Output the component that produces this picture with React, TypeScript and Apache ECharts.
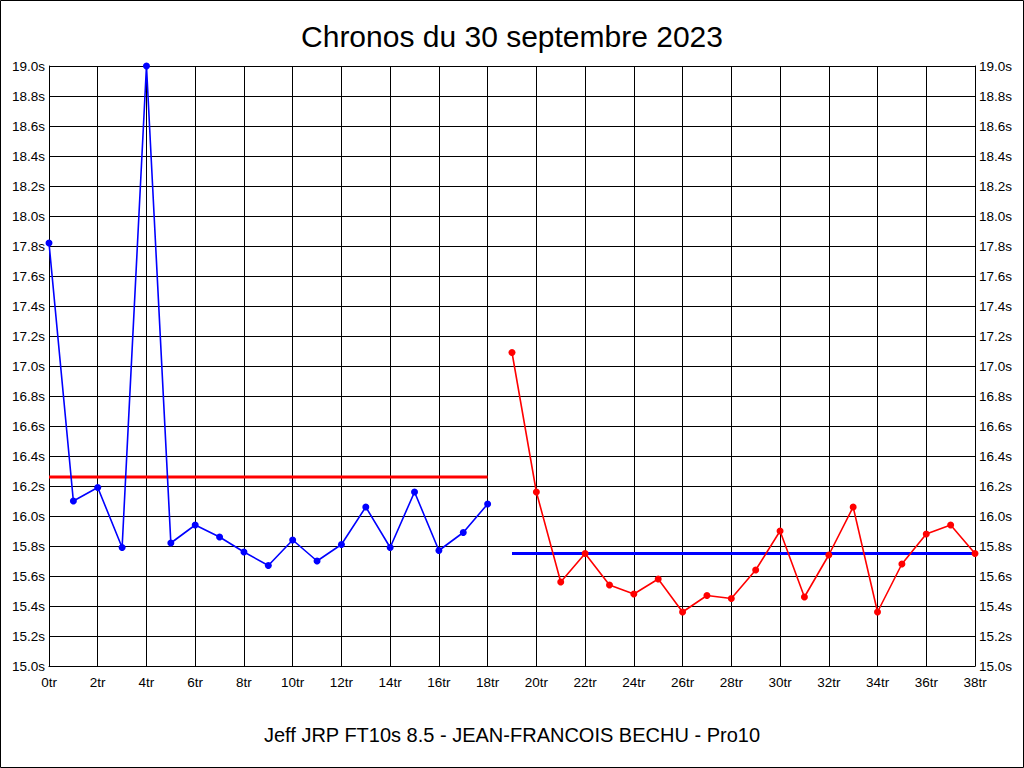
import React, { useEffect, useRef } from "react";
import * as echarts from "echarts";

const TITLE = "Chronos du 30 septembre 2023";
const FOOTER = "Jeff JRP FT10s 8.5 - JEAN-FRANCOIS BECHU - Pro10";

// Lap times (seconds)
const blueStartLap = 0;
const blueTimes = [
  17.82, 16.1, 16.19, 15.79, 19.0, 15.82, 15.94, 15.86, 15.76, 15.67,
  15.84, 15.7, 15.81, 16.06, 15.79, 16.16, 15.77, 15.89, 16.08,
];
const redStartLap = 19;
const redTimes = [
  17.09, 16.16, 15.56, 15.75, 15.54, 15.48, 15.58, 15.36, 15.47, 15.45,
  15.64, 15.9, 15.46, 15.74, 16.06, 15.36, 15.68, 15.88, 15.94, 15.75,
];
// Reference lines
const redRefValue = 16.26;
const redRefLaps = [0, 18];
const blueRefValue = 15.75;
const blueRefLaps = [19, 38];

const xMin = 0;
const xMax = 38;
const xInterval = 2;
const yMin = 15.0;
const yMax = 19.0;
const yInterval = 0.2;

const FONT = "Arial, 'Liberation Sans', sans-serif";

export default function App() {
  const ref = useRef<HTMLDivElement>(null);
  useEffect(() => {
    document.body.style.margin = "0";
    if (!ref.current) return;
    const chart = echarts.init(ref.current, undefined, { renderer: "svg" });
    const blueData = blueTimes.map((v, i) => [blueStartLap + i, v]);
    const redData = redTimes.map((v, i) => [redStartLap + i, v]);
    const yLabel = {
      color: "#000",
      fontSize: 13.5,
      fontFamily: FONT,
      margin: 4,
      formatter: (v: number) => v.toFixed(1) + "s",
    };
    chart.setOption({
      animation: false,
      backgroundColor: "#fff",
      textStyle: { fontFamily: FONT },
      title: [
        {
          text: TITLE,
          left: "center",
          top: 16,
          textStyle: { fontSize: 30, fontWeight: "normal", color: "#000", fontFamily: FONT },
        },
        {
          text: FOOTER,
          left: "center",
          top: 720,
          textStyle: { fontSize: 20, fontWeight: "normal", color: "#000", fontFamily: FONT },
        },
      ],
      graphic: [
        {
          type: "rect",
          shape: { x: 0.5, y: 0.5, width: 1023, height: 767 },
          style: { fill: "none", stroke: "#000", lineWidth: 1 },
          silent: true,
          z: 100,
        },
      ],
      grid: { left: 49, right: 49, top: 66, bottom: 102, containLabel: false },
      xAxis: {
        type: "value",
        min: xMin,
        max: xMax,
        interval: xInterval,
        axisLine: { show: true, lineStyle: { color: "#000", width: 1 } },
        axisTick: { show: false },
        splitLine: { show: true, lineStyle: { color: "#000", width: 1 } },
        axisLabel: {
          color: "#000",
          fontSize: 13.5,
          fontFamily: FONT,
          margin: 9,
          formatter: (v: number) => v + "tr",
        },
      },
      yAxis: [
        {
          type: "value",
          position: "left",
          min: yMin,
          max: yMax,
          interval: yInterval,
          axisLine: { show: true, lineStyle: { color: "#000", width: 1 } },
          axisTick: { show: false },
          splitLine: { show: true, lineStyle: { color: "#000", width: 1 } },
          axisLabel: yLabel,
        },
        {
          type: "value",
          position: "right",
          min: yMin,
          max: yMax,
          interval: yInterval,
          axisLine: { show: true, lineStyle: { color: "#000", width: 1 } },
          axisTick: { show: false },
          splitLine: { show: false },
          axisLabel: yLabel,
        },
      ],
      series: [
        {
          type: "line",
          data: redRefLaps.map((x) => [x, redRefValue]),
          symbol: "none",
          lineStyle: { color: "#ff0000", width: 3 },
          z: 3,
        },
        {
          type: "line",
          data: blueRefLaps.map((x) => [x, blueRefValue]),
          symbol: "none",
          lineStyle: { color: "#0000ff", width: 3 },
          z: 3,
        },
        {
          type: "line",
          data: blueData,
          symbol: "circle",
          symbolSize: 7,
          lineStyle: { color: "#0000ff", width: 1.6 },
          itemStyle: { color: "#0000ff" },
          z: 4,
        },
        {
          type: "line",
          data: redData,
          symbol: "circle",
          symbolSize: 7,
          lineStyle: { color: "#ff0000", width: 1.6 },
          itemStyle: { color: "#ff0000" },
          z: 4,
        },
      ],
    });
    return () => chart.dispose();
  }, []);
  return <div ref={ref} style={{ width: 1024, height: 768 }} />;
}
